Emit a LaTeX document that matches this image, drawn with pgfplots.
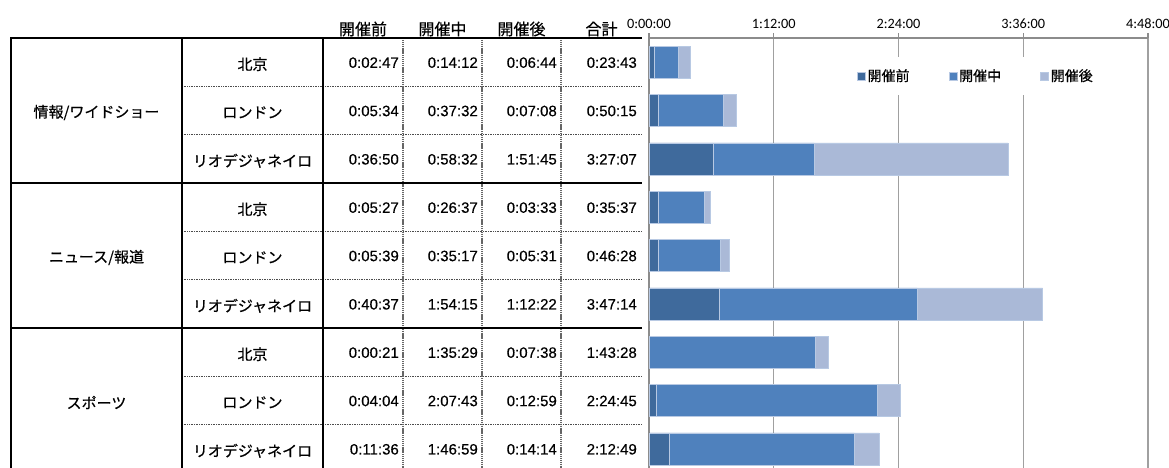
\documentclass[border=0pt]{standalone}
\usepackage{pgfplots}
\usepackage{pgfplotstable}
\pgfplotsset{compat=1.18}
\usepackage{fontspec}
\setmainfont{Liberation Sans}[FakeBold=0.3]
\newfontfamily\jp{Noto Sans CJK JP}[FakeBold=0.5]
\newfontfamily\tickfont{Carlito}

\definecolor{cpre}{HTML}{3F6A9C}
\definecolor{cmid}{HTML}{4F81BD}
\definecolor{cpost}{HTML}{AAB9D7}
\definecolor{barline}{HTML}{B8C9E3}
\definecolor{gridgray}{HTML}{A0A0A0}
\definecolor{axgray}{HTML}{8C8C8C}

% viewing time in seconds: before / during / after the games, and the total
\pgfplotstableread{
row pre  mid  post total
1   167  852  404  1423
2   334  2252 428  3015
3   2210 3512 6705 12427
4   327  1597 213  2137
5   339  2117 331  2788
6   2437 6855 4342 13634
7   21   5729 458  6208
8   244  7663 779  8685
9   696  6419 854  7969
}\viewtimes

% seconds -> h:mm:ss
\newcommand\hms[1]{%
  \pgfmathtruncatemacro\tH{#1/3600}%
  \pgfmathtruncatemacro\tM{(#1-3600*\tH)/60}%
  \pgfmathtruncatemacro\tS{#1-3600*\tH-60*\tM}%
  \tH:\ifnum\tM<10 0\fi\tM:\ifnum\tS<10 0\fi\tS}

\newcommand\numfont{\fontsize{15}{15}\selectfont}
\newcommand\jpfont{\jp\fontsize{15}{15}\selectfont}

\begin{document}
\begin{tikzpicture}[x=1pt,y=1pt]
\useasboundingbox (0,0) rectangle (1169,-467);

% ---- table grid ----
\begin{scope}[line width=1.3pt, black!70, dash pattern=on 1pt off 0.7pt]
  \foreach \g in {0,1,2}{
    \foreach \k in {1,2}{
      \pgfmathsetmacro\yy{-(38+48.333*(3*\g+\k))}
      \draw (182,\yy) -- (642,\yy);
    }
  }
\end{scope}
\begin{scope}[line width=2.6pt, black!60, dash pattern=on 1.2pt off 0.7pt]
  \foreach \xx in {403,482,561}{\draw (\xx,-38) -- (\xx,-480);}
\end{scope}
\begin{scope}[line width=2pt, black]
  \foreach \g in {0,1,2}{
    \pgfmathsetmacro\yy{-(38+145*\g)}
    \draw (11,\yy) -- (642,\yy);
  }
  \foreach \xx in {11,182,323}{\draw (\xx,-37) -- (\xx,-480);}
\end{scope}

% ---- column headers ----
\foreach \xx/\t in {363/開催前,442.5/開催中,521.5/開催後,601.5/合計}{
  \node[font=\jp\fontsize{16}{16}\selectfont, inner sep=0pt] at (\xx,-29) {\t};
}

% ---- genre labels ----
\foreach \t [count=\g from 0] in {情報/ワイドショー,ニュース/報道,スポーツ}{
  \pgfmathsetmacro\yy{-(38+145*\g+72.5)-2}
  \node[font=\jpfont, inner sep=0pt] at (96.5,\yy) {\t};
}

% ---- city labels and times ----
\foreach \r in {0,...,8}{
  \pgfmathtruncatemacro\ci{mod(\r,3)}
  \pgfmathsetmacro\yc{-(38+48.333*(\r+0.5))}
  \pgfmathsetmacro\yn{\yc-3}
  \ifcase\ci
    \node[font=\jpfont, inner sep=0pt] at (252.5,\yc-2) {北京};
  \or
    \node[font=\jpfont, inner sep=0pt] at (252.5,\yc-2) {ロンドン};
  \or
    \node[font=\jpfont, inner sep=0pt] at (252.5,\yc-2) {リオデジャネイロ};
  \fi
  \foreach \col/\xr in {pre/399,mid/478,post/557,total/637}{
    \pgfplotstablegetelem{\r}{\col}\of\viewtimes
    \edef\val{\pgfplotsretval}
    \node[font=\numfont, inner sep=0pt, anchor=mid east] at (\xr,\yn) {\hms{\val}};
  }
}

% ---- stacked bars ----
\begin{axis}[
  at={(649pt,-38pt)}, anchor=north west,
  width=499pt, height=435pt, scale only axis,
  xmin=0, xmax=17280, ymin=0.5, ymax=9.5, y dir=reverse,
  axis x line*=top, axis y line*=left,
  xtick={0,4320,8640,12960,17280},
  xticklabels={\mbox{0:00:00},\mbox{1:12:00},\mbox{2:24:00},\mbox{3:36:00},\mbox{4:48:00}},
  xticklabel style={font=\tickfont\fontsize{14.3}{14.3}\selectfont, yshift=1pt},
  scaled x ticks=false,
  xtick align=outside, major tick length=5pt,
  ytick=\empty,
  xmajorgrids, grid style={line width=1.2pt, gridgray},
  axis line style={line width=1.2pt, axgray},
  tick style={line width=1.2pt, axgray},
  xbar stacked, bar width=32pt,
  legend style={at={(0.655,0.913)}, anchor=center, draw=none, fill=white,
    font=\jp\fontsize{14}{14}\selectfont, inner xsep=8pt, inner ysep=10pt,
    /tikz/every even column/.append style={column sep=37pt}},
  legend columns=3,
  legend image code/.code={\fill[#1] (0pt,-4pt) rectangle (8pt,4pt);},
]
\addplot[fill=cpre,  draw=barline, line width=0.6pt] table[x=pre,  y=row] {\viewtimes};
\addplot[fill=cmid,  draw=barline, line width=0.6pt] table[x=mid,  y=row] {\viewtimes};
\addplot[fill=cpost, draw=barline, line width=0.6pt] table[x=post, y=row] {\viewtimes};
\legend{開催前,開催中,開催後}
\end{axis}
\end{tikzpicture}
\end{document}
